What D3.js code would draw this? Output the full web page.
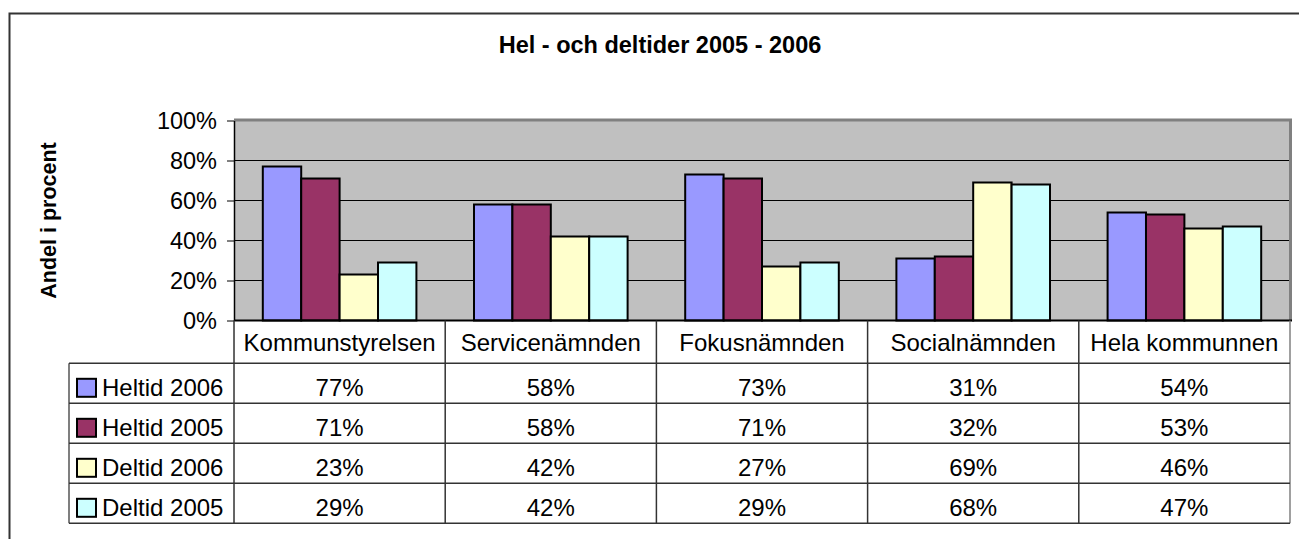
<!DOCTYPE html>
<html>
<head>
<meta charset="utf-8">
<script src="https://cdn.jsdelivr.net/npm/d3@7"></script>
<style>
  body { margin: 0; background: #fff; }
  svg text { font-family: "Liberation Sans", Arial, sans-serif; fill: #000; }
</style>
</head>
<body>
<svg id="chart"></svg>
<script>
var svg_width = 1299
var svg_height = 539

// DATA
var categories = ["Kommunstyrelsen", "Servicenämnden", "Fokusnämnden", "Socialnämnden", "Hela kommunnen"];
var seriesNames = ["Heltid 2006", "Heltid 2005", "Deltid 2006", "Deltid 2005"];
var heltid2006 = [77, 58, 73, 31, 54];
var heltid2005 = [71, 58, 71, 32, 53];
var deltid2006 = [23, 42, 27, 69, 46];
var deltid2005 = [29, 42, 29, 68, 47];
var yTicks = [0, 20, 40, 60, 80, 100];
var seriesColors = ["#9999ff", "#993366", "#ffffcc", "#ccffff"];

var seriesValues = [heltid2006, heltid2005, deltid2006, deltid2005];

var plot = { left: 234, right: 1290, top: 120.5, bottom: 320.5 };
var tableLeft = 69;
var headerBottom = 363.3;
var rowH = 40;

var svg = d3.select("#chart")
    .attr("width", svg_width)
    .attr("height", svg_height);

// outer chart border
svg.append("rect")
    .attr("x", 9.5).attr("y", 13.5)
    .attr("width", 1300).attr("height", 540)
    .attr("fill", "none")
    .attr("stroke", "#333")
    .attr("stroke-width", 2);

//SCALES
var xScale = d3.scaleBand()
    .domain(categories)
    .range([plot.left, plot.right])
    .paddingInner(0.2727)
    .paddingOuter(0.1364);

var xInner = d3.scaleBand()
    .domain(d3.range(seriesNames.length))
    .range([0, xScale.bandwidth()]);

var yScale = d3.scaleLinear()
    .domain([0, 100])
    .range([plot.bottom, plot.top]);

// plot background
svg.append("rect")
    .attr("x", plot.left).attr("y", plot.top)
    .attr("width", plot.right - plot.left)
    .attr("height", plot.bottom - plot.top)
    .attr("fill", "#c0c0c0");

// gridlines
svg.append("g")
    .selectAll("line")
    .data(yTicks.filter(function(d) { return d > 0 && d < 100; }))
    .enter()
    .append("line")
      .attr("x1", plot.left).attr("x2", plot.right)
      .attr("y1", function(d) { return yScale(d); })
      .attr("y2", function(d) { return yScale(d); })
      .attr("stroke", "#000")
      .attr("stroke-width", 1);

// plot border top / right (grey)
svg.append("path")
    .attr("d", "M" + plot.left + "," + (plot.top - 0.5) + "H" + (plot.right + 0.5) + "V" + plot.bottom)
    .attr("fill", "none")
    .attr("stroke", "#808080")
    .attr("stroke-width", 3);

// bars
var groups = svg.append("g")
    .selectAll("g")
    .data(seriesValues)
    .enter()
    .append("g")
      .attr("fill", function(d, i) { return seriesColors[i]; });

groups.each(function(vals, si) {
    d3.select(this).selectAll("rect")
        .data(vals)
        .enter()
        .append("rect")
          .attr("x", function(d, ci) { return xScale(categories[ci]) + xInner(si); })
          .attr("y", function(d) { return yScale(d); })
          .attr("width", xInner.bandwidth())
          .attr("height", function(d) { return yScale(0) - yScale(d); })
          .attr("stroke", "#000")
          .attr("stroke-width", 2);
});

// y axis
var yAxis = d3.axisLeft(yScale)
    .tickValues(yTicks)
    .tickSize(7)
    .tickPadding(10)
    .tickSizeOuter(0)
    .tickFormat(function(d) { return d + "%"; });

var yG = svg.append("g")
    .attr("transform", "translate(" + plot.left + ",0)")
    .call(yAxis);
yG.select(".domain").attr("stroke", "#000").attr("stroke-width", 1.5);
yG.selectAll(".tick line").attr("stroke", "#000");
yG.selectAll(".tick text")
    .attr("font-size", "23.5px")
    .attr("font-family", "Liberation Sans, Arial, sans-serif")
    .attr("fill", "#000");

// x axis line (category axis)
svg.append("line")
    .attr("x1", plot.left).attr("x2", plot.right + 2)
    .attr("y1", plot.bottom).attr("y2", plot.bottom)
    .attr("stroke", "#000").attr("stroke-width", 2);

// DATA TABLE
var tableBottom = headerBottom + rowH * seriesNames.length;
var tbl = svg.append("g");

// vertical lines at category boundaries
var bounds = categories.map(function(c) { return xScale(c) - xScale.step() * xScale.paddingInner() / 2; });
bounds.push(plot.right);
tbl.selectAll("line.v")
    .data(bounds)
    .enter()
    .append("line")
      .attr("class", "v")
      .attr("x1", function(d) { return d; }).attr("x2", function(d) { return d; })
      .attr("y1", plot.bottom).attr("y2", tableBottom)
      .attr("stroke", function(d, i) { return i === bounds.length - 1 ? "#808080" : "#333"; })
      .attr("stroke-width", 1.5);

// left edge of legend column
tbl.append("line")
    .attr("x1", tableLeft).attr("x2", tableLeft)
    .attr("y1", headerBottom).attr("y2", tableBottom)
    .attr("stroke", "#555").attr("stroke-width", 1.5);

// horizontal row lines
tbl.selectAll("line.h")
    .data(d3.range(seriesNames.length + 1))
    .enter()
    .append("line")
      .attr("class", "h")
      .attr("x1", tableLeft).attr("x2", plot.right)
      .attr("y1", function(i) { return headerBottom + i * rowH; })
      .attr("y2", function(i) { return headerBottom + i * rowH; })
      .attr("stroke", "#333").attr("stroke-width", 1.5);

// header labels
tbl.selectAll("text.cat")
    .data(categories)
    .enter()
    .append("text")
      .attr("class", "cat")
      .attr("x", function(d) { return xScale(d) + xScale.bandwidth() / 2; })
      .attr("y", headerBottom - 12)
      .attr("text-anchor", "middle")
      .attr("font-size", "24px")
      .text(function(d) { return d; });

// row legend keys and names
var rows = tbl.selectAll("g.row")
    .data(seriesNames)
    .enter()
    .append("g")
      .attr("class", "row")
      .attr("transform", function(d, i) { return "translate(0," + (headerBottom + i * rowH) + ")"; });

rows.append("rect")
    .attr("x", 77).attr("y", 15.5)
    .attr("width", 19).attr("height", 18)
    .attr("fill", function(d, i) { return seriesColors[i]; })
    .attr("stroke", "#000").attr("stroke-width", 2);

rows.append("text")
    .attr("x", 102)
    .attr("y", 33)
    .attr("font-size", "24px")
    .text(function(d) { return d; });

rows.each(function(name, si) {
    d3.select(this).selectAll("text.val")
        .data(seriesValues[si])
        .enter()
        .append("text")
          .attr("class", "val")
          .attr("x", function(d, ci) { return xScale(categories[ci]) + xScale.bandwidth() / 2; })
          .attr("y", 33)
          .attr("text-anchor", "middle")
          .attr("font-size", "24px")
          .text(function(d) { return d + "%"; });
});

// TITLE
svg.append("text")
    .attr("x", 660)
    .attr("y", 53)
    .attr("text-anchor", "middle")
    .attr("font-size", "23.5px")
    .attr("font-weight", "bold")
    .text("Hel - och deltider 2005 - 2006");

// y label
svg.append("text")
    .attr("transform", "translate(56," + ((plot.top + plot.bottom) / 2) + ") rotate(-90)")
    .attr("text-anchor", "middle")
    .attr("font-size", "21.5px")
    .attr("font-weight", "bold")
    .text("Andel i procent");
</script>
</body>
</html>
